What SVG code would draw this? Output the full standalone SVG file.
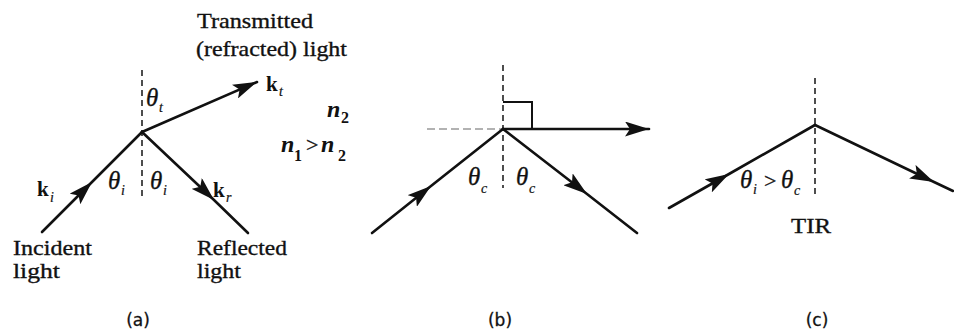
<svg xmlns="http://www.w3.org/2000/svg" width="954" height="332" viewBox="0 0 954 332">
<defs>
<style>
.ray{fill:none;stroke:#111;stroke-width:2.6;stroke-linecap:round}
.norm{fill:none;stroke:#222;stroke-width:1.6;stroke-dasharray:6 4}
.faint{fill:none;stroke:#999;stroke-width:1.4;stroke-dasharray:8 4}
.lbl{font-family:"Liberation Serif","Times New Roman",serif;font-size:22px;fill:#111;stroke:#111;stroke-width:0.35}
.gr{font-family:"Liberation Serif","Times New Roman",serif;font-style:italic;font-size:25px;fill:#111;stroke:#111;stroke-width:0.3}
.sub{font-family:"Liberation Serif","Times New Roman",serif;font-style:italic;font-size:14px;fill:#111;stroke:#111;stroke-width:0.2}
.kb{font-family:"Liberation Serif","Times New Roman",serif;font-weight:bold;font-size:21px;fill:#111}
.nb{font-family:"Liberation Serif","Times New Roman",serif;font-weight:bold;font-style:italic;font-size:24px;fill:#111}
.nsub{font-family:"Liberation Serif","Times New Roman",serif;font-weight:bold;font-size:16px;fill:#111}
.cap{font-family:"DejaVu Sans","Liberation Sans",sans-serif;font-size:17px;fill:#111;stroke:#111;stroke-width:0.3}
</style>
<marker id="ah" viewBox="0 0 24 15" refX="24" refY="7.5" markerWidth="24" markerHeight="15" markerUnits="userSpaceOnUse" orient="auto">
<path d="M0,0 L24,7.5 L0,15 L5,7.5 z" fill="#111"/>
</marker>
</defs>
<rect width="954" height="332" fill="#fff"/>

<g id="normals">
<line class="norm" x1="142" y1="70" x2="142" y2="200"/>
<line class="norm" x1="503" y1="65" x2="503" y2="188"/>
<line class="faint" x1="427" y1="129" x2="503" y2="129"/>
<line class="norm" x1="815" y1="78" x2="815" y2="195"/>
<path d="M503,102 H532 V129" fill="none" stroke="#111" stroke-width="2"/>
</g>

<g id="connectors">
<path class="ray" d="M42,232 L92,182 L142,132" marker-mid="url(#ah)"/>
<path class="ray" d="M142,132 L214,200 L248,233" marker-mid="url(#ah)"/>
<path class="ray" d="M142,132 L257,82" marker-end="url(#ah)"/>
<path class="ray" d="M372,233 L431,186 L503,129" marker-mid="url(#ah)"/>
<path class="ray" d="M503,129 L587,194 L637,233" marker-mid="url(#ah)"/>
<path class="ray" d="M503,129 L649,129" marker-end="url(#ah)"/>
<path class="ray" d="M669,208 L729,174 L815,125" marker-mid="url(#ah)"/>
<path class="ray" d="M815,125 L934,182 L953,191" marker-mid="url(#ah)"/>
</g>

<g id="panel-a-labels">
<text class="lbl" x="197" y="28" textLength="116" lengthAdjust="spacingAndGlyphs">Transmitted</text>
<text class="lbl" x="196" y="56" textLength="151" lengthAdjust="spacingAndGlyphs">(refracted) light</text>
<text class="kb" x="266" y="91">k</text><text class="sub" x="279" y="96">t</text>
<text class="gr" x="146" y="106">θ</text><text class="sub" x="159" y="112">t</text>
<text class="gr" x="108" y="189">θ</text><text class="sub" x="121" y="195">i</text>
<text class="gr" x="150" y="189">θ</text><text class="sub" x="163" y="195">i</text>
<text class="kb" x="37" y="196">k</text><text class="sub" x="50" y="202">i</text>
<text class="kb" x="213" y="197">k</text><text class="sub" x="226" y="202">r</text>
<text class="nb" x="327" y="117">n</text><text class="nsub" x="341" y="123">2</text>
<text class="nb" x="281" y="152">n</text><text class="nsub" x="294" y="161">1</text>
<text class="lbl" x="306" y="152">&gt;</text>
<text class="nb" x="321" y="152">n</text><text class="nsub" x="338" y="161">2</text>
<text class="lbl" x="13" y="255" textLength="79" lengthAdjust="spacingAndGlyphs">Incident</text>
<text class="lbl" x="13" y="278" textLength="47" lengthAdjust="spacingAndGlyphs">light</text>
<text class="lbl" x="197" y="255" textLength="90" lengthAdjust="spacingAndGlyphs">Reflected</text>
<text class="lbl" x="197" y="278" textLength="44" lengthAdjust="spacingAndGlyphs">light</text>
<text class="cap" x="138" y="326" text-anchor="middle">(a)</text>
</g>

<g id="panel-b-labels">
<text class="gr" x="468" y="185">θ</text><text class="sub" x="481" y="193">c</text>
<text class="gr" x="516" y="185">θ</text><text class="sub" x="529" y="193">c</text>
<text class="cap" x="500" y="326" text-anchor="middle">(b)</text>
</g>

<g id="panel-c-labels">
<text class="gr" x="740" y="188">θ</text><text class="sub" x="753" y="194">i</text>
<text class="lbl" x="764" y="188">&gt;</text>
<text class="gr" x="781" y="188">θ</text><text class="sub" x="794" y="195">c</text>
<text class="lbl" x="791" y="233" textLength="40" lengthAdjust="spacingAndGlyphs">TIR</text>
<text class="cap" x="817" y="326" text-anchor="middle">(c)</text>
</g>
</svg>
